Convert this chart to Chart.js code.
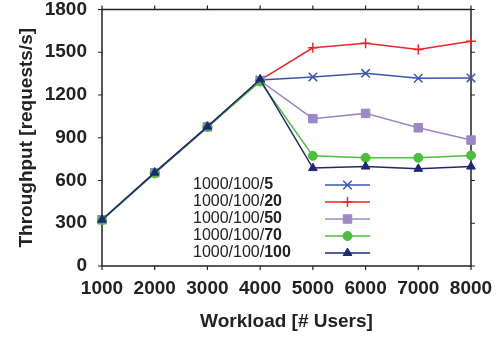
<!DOCTYPE html>
<html><head><meta charset="utf-8">
<script src="https://cdn.jsdelivr.net/npm/chart.js@4/dist/chart.umd.min.js"></script>
<style>html,body{margin:0;padding:0;background:#fff}#wrap{width:498px;height:339px;position:relative}</style>
</head><body><div id="wrap"><canvas id="c"></canvas></div>
<script>
const workloads = [1000, 2000, 3000, 4000, 5000, 6000, 7000, 8000];
const yTicks = [0, 300, 600, 900, 1200, 1500, 1800];
const labelPrefix = '1000/100/';
const labelSuffixes = ['5', '20', '50', '70', '100'];
const s5   = [325, 655, 975, 1305, 1327, 1352, 1317, 1320];
const s20  = [325, 655, 975, 1305, 1531, 1563, 1519, 1577];
const s50  = [325, 655, 978, 1300, 1034, 1071, 970, 884];
const s70  = [322, 650, 975, 1295, 773, 759, 759, 776];
const s100 = [325, 655, 978, 1310, 687, 698, 682, 698];

const seriesValues = [s5, s20, s50, s70, s100];
const colors = ['#3a56a8', '#e8262b', '#9c88c4', '#4dbd3d', '#1f2777'];
const styles = ['crossRot', 'cross', 'rect', 'circle', 'triangle'];
const radii = [6, 5, 6, 4.5, 5];
const drawOrder = [4, 3, 2, 1, 0];
const FONT = "'Liberation Sans', Arial, Helvetica, sans-serif";

const datasets = seriesValues.map((vals, i) => ({
  label: labelPrefix + labelSuffixes[i],
  data: workloads.map((x, j) => ({x: x, y: vals[j]})),
  borderColor: colors[i],
  backgroundColor: colors[i],
  borderWidth: 1.5,
  pointStyle: styles[i],
  pointRadius: radii[i],
  pointBorderWidth: (styles[i] === 'cross' || styles[i] === 'crossRot') ? 1.5 : 1,
  pointBackgroundColor: colors[i],
  pointBorderColor: colors[i],
  tension: 0,
  clip: false,
  order: drawOrder[i]
}));

const framePlugin = {
  id: 'frame',
  beforeDatasetsDraw(chart) {
    const ctx = chart.ctx, a = chart.chartArea;
    const xs = chart.scales.x, ys = chart.scales.y;
    ctx.save();
    ctx.strokeStyle = '#222';
    ctx.lineWidth = 1.5;
    ctx.strokeRect(a.left, a.top, a.right - a.left, a.bottom - a.top);
    ctx.lineWidth = 1.2;
    ctx.beginPath();
    workloads.forEach(v => {
      const px = xs.getPixelForValue(v);
      ctx.moveTo(px, a.bottom); ctx.lineTo(px, a.bottom + 4);
      ctx.moveTo(px, a.top); ctx.lineTo(px, a.top - 4);
    });
    yTicks.forEach(v => {
      const py = ys.getPixelForValue(v);
      ctx.moveTo(a.left, py); ctx.lineTo(a.left - 4, py);
      ctx.moveTo(a.right, py); ctx.lineTo(a.right + 4, py);
    });
    ctx.stroke();
    ctx.restore();
  }
};

const legendPlugin = {
  id: 'mixedLegend',
  afterDatasetsDraw(chart) {
    const ctx = chart.ctx;
    const tx = 193, lx0 = 325, lx1 = 370, y0 = 185, dy = 17;
    ctx.save();
    labelSuffixes.forEach((suf, i) => {
      const y = y0 + i * dy;
      ctx.textBaseline = 'middle';
      ctx.textAlign = 'left';
      ctx.fillStyle = '#222';
      ctx.font = '16px ' + FONT;
      ctx.fillText(labelPrefix, tx, y);
      const w = ctx.measureText(labelPrefix).width;
      ctx.font = 'bold 16px ' + FONT;
      ctx.fillText(suf, tx + w, y);
      ctx.strokeStyle = colors[i];
      ctx.fillStyle = colors[i];
      ctx.lineWidth = 1.5;
      ctx.beginPath(); ctx.moveTo(lx0, y); ctx.lineTo(lx1, y); ctx.stroke();
      const ds = datasets[i];
      if (Chart.helpers && Chart.helpers.drawPoint) {
        ctx.lineWidth = ds.pointBorderWidth;
        Chart.helpers.drawPoint(ctx, {pointStyle: styles[i], radius: radii[i], borderWidth: ds.pointBorderWidth, rotation: 0}, (lx0 + lx1) / 2, y);
      }
    });
    ctx.restore();
  }
};

new Chart(document.getElementById('c'), {
  type: 'line',
  data: { datasets: datasets },
  plugins: [framePlugin, legendPlugin],
  options: {
    responsive: true,
    maintainAspectRatio: false,
    animation: false,
    devicePixelRatio: 1,
    layout: { padding: { left: 0, right: 27, top: 9.5, bottom: 0 } },
    plugins: { legend: { display: false }, tooltip: { enabled: false } },
    scales: {
      x: {
        type: 'linear', min: 1000, max: 8000,
        afterBuildTicks: s => { s.ticks = workloads.map(v => ({value: v})); },
        afterFit: s => { s.height = 73; s.paddingLeft = 0; s.paddingRight = 0; },
        grid: { display: false, drawTicks: false },
        border: { display: false },
        ticks: { color: '#222', font: { family: FONT, size: 19, weight: 'bold' }, padding: 11, maxRotation: 0, autoSkip: false, callback: v => String(v) },
        title: { display: true, text: 'Workload [# Users]', color: '#222', font: { family: FONT, size: 19, weight: 'bold' }, padding: { top: 0, bottom: 5.6 } }
      },
      y: {
        min: 0, max: 1800,
        afterBuildTicks: s => { s.ticks = yTicks.map(v => ({value: v})); },
        afterFit: s => { s.width = 102; s.paddingTop = 0; s.paddingBottom = 0; },
        grid: { display: false, drawTicks: false },
        border: { display: false },
        ticks: { color: '#222', font: { family: FONT, size: 19, weight: 'bold' }, padding: 15, callback: v => String(v) },
        title: { display: true, text: 'Throughput [requests/s]', color: '#222', font: { family: FONT, size: 19, weight: 'bold' }, padding: { top: 15.6, bottom: 0 } }
      }
    }
  }
});
</script>
</body></html>
